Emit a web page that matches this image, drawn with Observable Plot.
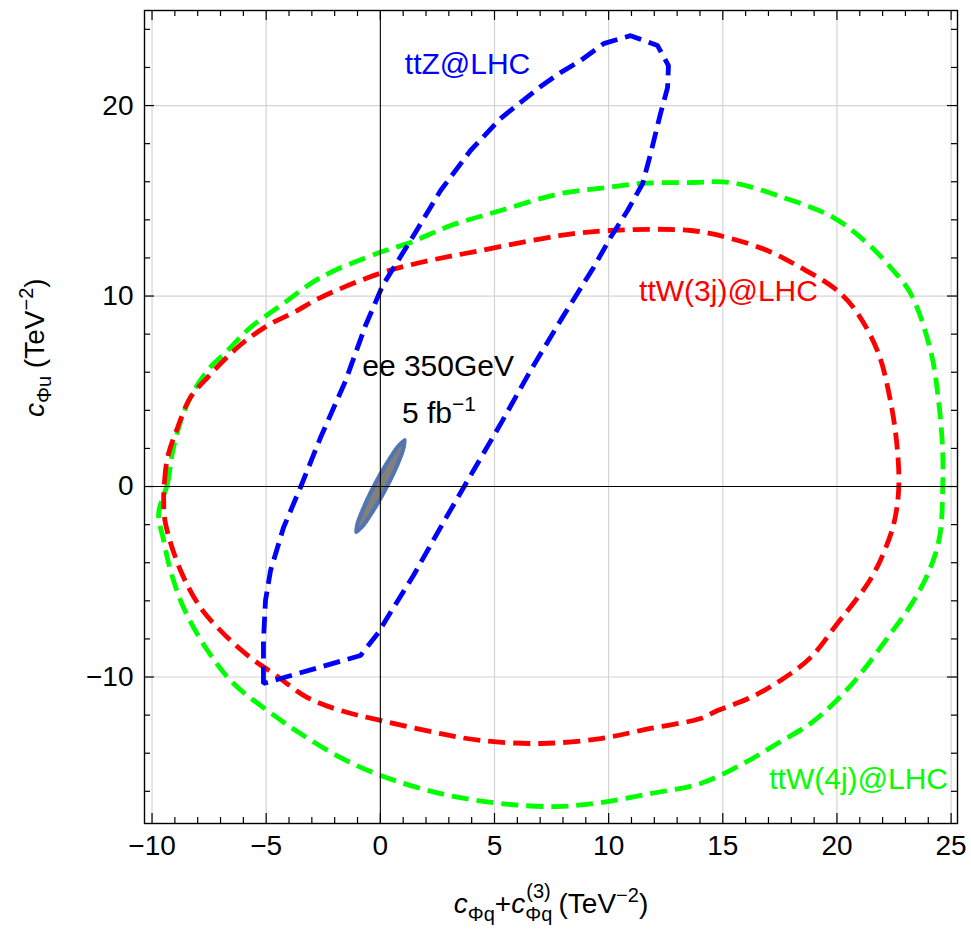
<!DOCTYPE html>
<html><head><meta charset="utf-8">
<script src="https://cdn.jsdelivr.net/npm/d3@7"></script>
<script src="https://cdn.jsdelivr.net/npm/@observablehq/plot@0.6"></script>
<style>html,body{margin:0;padding:0;background:#fff;}</style>
</head><body><div id="chart"></div>
<script>
// ---- data ----
const ttZ_x = [-5.12,-5.12,-5.03,-4.81,-4.24,-3.50,-2.62,-1.52,-0.65,0.10,1.32,2.64,3.95,5.26,7.02,7.89,8.77,9.78,10.96,12.14,12.62,12.58,12.27,11.84,11.49,10.83,10.08,9.34,7.89,6.58,5.35,4.08,2.81,1.45,0.23,-0.08,-0.87];
const ttZ_y = [-10.34,-8.08,-5.98,-4.41,-2.15,-0.05,2.57,5.56,8.45,10.55,12.91,15.54,17.64,19.32,21.0,21.73,22.36,23.25,23.67,23.15,22.10,20.94,19.58,17.48,15.91,14.49,13.07,11.50,8.71,6.09,3.46,0.84,-1.78,-4.67,-7.03,-7.66,-8.87];

const ttW3_x = [-9.49,-9.45,-9.32,-8.88,-8.32,-7.57,-6.26,-4.94,-3.80,-2.62,-0.04,1.76,4.39,7.89,10.0,13.59,15.2,16.95,18.4,19.84,20.72,21.77,22.34,22.65,22.70,22.47,21.90,21.38,20.81,20.02,18.84,17.53,16.21,14.77,14.02,11.83,9.65,7.02,4.39,2.64,0.01,-1.74,-3.19,-4.68,-5.69,-6.87,-7.88,-8.75,-9.41];
const ttW3_y = [-0.73,0.31,1.52,3.10,4.67,5.72,7.30,8.45,9.13,9.92,11.18,11.76,12.39,13.18,13.44,13.44,13.07,12.39,11.5,10.45,9.40,7.14,4.51,1.89,-0.21,-2.05,-3.88,-5.04,-5.98,-7.19,-8.98,-10.18,-11.08,-11.76,-12.18,-12.70,-13.23,-13.49,-13.33,-12.97,-12.28,-11.76,-11.08,-9.82,-8.98,-7.72,-6.35,-4.41,-1.94];

const ttW4_x = [-9.71,-9.32,-9.06,-8.45,-7.57,-6.69,-5.69,-4.37,-2.62,-0.04,1.32,3.08,5.27,7.89,9.99,11.39,13.59,15.34,17.66,19.85,21.34,22.35,23.23,24.10,24.45,24.63,24.63,24.54,24.32,23.9,23.25,22.35,20.90,19.85,18.84,17.39,15.90,14.02,11.83,9.65,7.72,5.27,2.64,0.01,-1.74,-3.50,-4.94,-6.43,-7.57,-8.62,-9.19,-9.49];
const ttW4_y = [-1.42,0.16,2.05,4.36,6.09,7.14,8.35,9.50,10.97,12.28,12.81,13.70,14.49,15.38,15.70,15.91,15.96,15.96,15.17,14.12,12.76,11.50,10.13,7.14,4.51,1.89,-0.21,-2.31,-3.5,-4.8,-6.2,-7.72,-10.03,-11.39,-12.44,-13.49,-14.54,-15.59,-16.12,-16.59,-16.80,-16.64,-16.12,-15.17,-14.23,-12.97,-11.76,-10.34,-8.61,-6.35,-4.41,-2.83];

// ee 350 GeV, 5 fb^-1 ellipse boundary (outer) and inner core
const ee_x = [1.10,1.10,0.81,0.30,-0.29,-0.79,-1.09,-1.09,-0.79,-0.28,0.31,0.81];
const ee_y = [2.52,2.09,1.11,-0.16,-1.38,-2.23,-2.47,-2.04,-1.06,0.21,1.43,2.28];
const eeCore_x = [0.95,0.60,-0.34,-0.93,-0.58,0.36];
const eeCore_y = [2.16,1.02,-1.12,-2.11,-0.97,1.17];

// tick values
const xMajor = [-10,-5,0,5,10,15,20,25];
const xMinor = d3.range(-10,26,1).filter(v => v % 5 !== 0);
const yMajor = [-10,0,10,20];
const yMinor = [-16,-14,-12,-8,-6,-4,-2,2,4,6,8,12,14,16,18,22,24];

// labels
const labelText = ["ttZ@LHC","ttW(3j)@LHC","ttW(4j)@LHC","ee 350GeV","5 fb−1"];
const labelX = [3.82,15.25,20.95,2.53,2.57];
const labelY = [22.15,10.24,-15.38,6.30,3.86];

const xTitle = "cΦq+cΦq(3) (TeV−2)";
const yTitle = "cΦu (TeV−2)";

// ---- build ----
const pts = (xs, ys) => xs.map((x, i) => ({x, y: ys[i]}));
const ttZ = pts(ttZ_x, ttZ_y), ttW3 = pts(ttW3_x, ttW3_y), ttW4 = pts(ttW4_x, ttW4_y);
const ee = pts(ee_x, ee_y), eeCore = pts(eeCore_x, eeCore_y);
const labels = labelText.map((t, i) => ({t, x: labelX[i], y: labelY[i]}));

const W = 971, H = 937, mL = 144, mR = 14, mT = 10, mB = 114;
const innerH = H - mT - mB, innerW = W - mL - mR;
const majorLen = 10, minorLen = 6;
const fmt = d => d < 0 ? "\u2212" + Math.abs(d) : String(d);
const dash = {strokeWidth: 4.8, strokeDasharray: "17,8", strokeLinecap: "butt", strokeLinejoin: "miter"};

const plot = Plot.plot({
  width: W, height: H,
  marginLeft: mL, marginRight: mR, marginTop: mT, marginBottom: mB,
  style: {fontFamily: "'Liberation Sans', Arial, sans-serif", background: "white", color: "black"},
  x: {domain: [-10.33, 25.28]},
  y: {domain: [-17.69, 24.99]},
  marks: [
    Plot.ruleX(xMajor.filter(d => d !== 0), {stroke: "#d4d4d4", strokeWidth: 1.2}),
    Plot.ruleY(yMajor.filter(d => d !== 0), {stroke: "#d4d4d4", strokeWidth: 1.2}),
    Plot.line(ttW4, {x: "x", y: "y", stroke: "#00ff00", curve: "catmull-rom-closed", ...dash}),
    Plot.line(ttW3, {x: "x", y: "y", stroke: "#ff0000", curve: "catmull-rom-closed", ...dash}),
    Plot.line(ttZ, {x: "x", y: "y", stroke: "#0000ff", curve: "linear-closed", ...dash}),
    Plot.line(ee, {x: "x", y: "y", fill: "#5275b0", stroke: "#5275b0", strokeWidth: 1, curve: "catmull-rom-closed"}),
    Plot.line(eeCore, {x: "x", y: "y", fill: "#808080", stroke: "none", curve: "catmull-rom-closed"}),
    Plot.ruleX([0], {stroke: "black", strokeWidth: 1.1}),
    Plot.ruleY([0], {stroke: "black", strokeWidth: 1.1}),
    // inward ticks on all four sides
    Plot.tickX(xMajor, {x: d => d, insetTop: innerH - majorLen, stroke: "black", strokeWidth: 1.2}),
    Plot.tickX(xMajor, {x: d => d, insetBottom: innerH - majorLen, stroke: "black", strokeWidth: 1.2}),
    Plot.tickX(xMinor, {x: d => d, insetTop: innerH - minorLen, stroke: "black", strokeWidth: 1.2}),
    Plot.tickX(xMinor, {x: d => d, insetBottom: innerH - minorLen, stroke: "black", strokeWidth: 1.2}),
    Plot.tickY(yMajor, {y: d => d, insetRight: innerW - majorLen, stroke: "black", strokeWidth: 1.2}),
    Plot.tickY(yMajor, {y: d => d, insetLeft: innerW - majorLen, stroke: "black", strokeWidth: 1.2}),
    Plot.tickY(yMinor, {y: d => d, insetRight: innerW - minorLen, stroke: "black", strokeWidth: 1.2}),
    Plot.tickY(yMinor, {y: d => d, insetLeft: innerW - minorLen, stroke: "black", strokeWidth: 1.2}),
    Plot.frame({stroke: "black", strokeWidth: 1.4}),
    Plot.axisX({ticks: xMajor, tickSize: 0, tickPadding: 12, fontSize: 28, tickFormat: fmt, label: null}),
    Plot.axisY({ticks: yMajor, tickSize: 0, tickPadding: 11, fontSize: 28, tickFormat: fmt, label: null}),
    Plot.text(labels.slice(0,1), {x: "x", y: "y", text: "t", fill: "#0000ff", fontSize: 30}),
    Plot.text(labels.slice(1,2), {x: "x", y: "y", text: "t", fill: "#ff0000", fontSize: 30}),
    Plot.text(labels.slice(2,3), {x: "x", y: "y", text: "t", fill: "#00ff00", fontSize: 30}),
    Plot.text(labels.slice(3,5), {x: "x", y: "y", text: "t", fill: "black", fontSize: 30}),
    Plot.text([xTitle], {frameAnchor: "bottom", dy: 89, text: d => d, fontSize: 28, fill: "black"}),
    Plot.text([yTitle], {frameAnchor: "left", dx: -109, rotate: -90, text: d => d, fontSize: 28, fill: "black"})
  ]
});

// rich text (sub/superscripts) for titles and luminosity label
const rich = {
  [xTitle]: '<tspan font-style="italic">c</tspan><tspan font-size="20" dy="8">Φq</tspan><tspan dy="-8">+</tspan><tspan font-style="italic">c</tspan><tspan font-size="20" dy="8">Φq</tspan><tspan font-size="20" dx="-26" dy="-23">(3)</tspan><tspan dy="15"> (TeV</tspan><tspan font-size="20" dy="-11">−2</tspan><tspan dy="11">)</tspan>',
  [yTitle]: '<tspan font-style="italic">c</tspan><tspan font-size="20" dy="7">Φu</tspan><tspan dy="-7"> (TeV</tspan><tspan font-size="20" dy="-11">−2</tspan><tspan dy="11">)</tspan>',
  "5 fb−1": '5 fb<tspan font-size="21" dy="-12">−1</tspan>'
};
d3.select(plot).selectAll("text").each(function() {
  const t = this.textContent;
  if (rich[t]) this.innerHTML = rich[t];
});
document.getElementById("chart").appendChild(plot);
</script>
</body></html>
